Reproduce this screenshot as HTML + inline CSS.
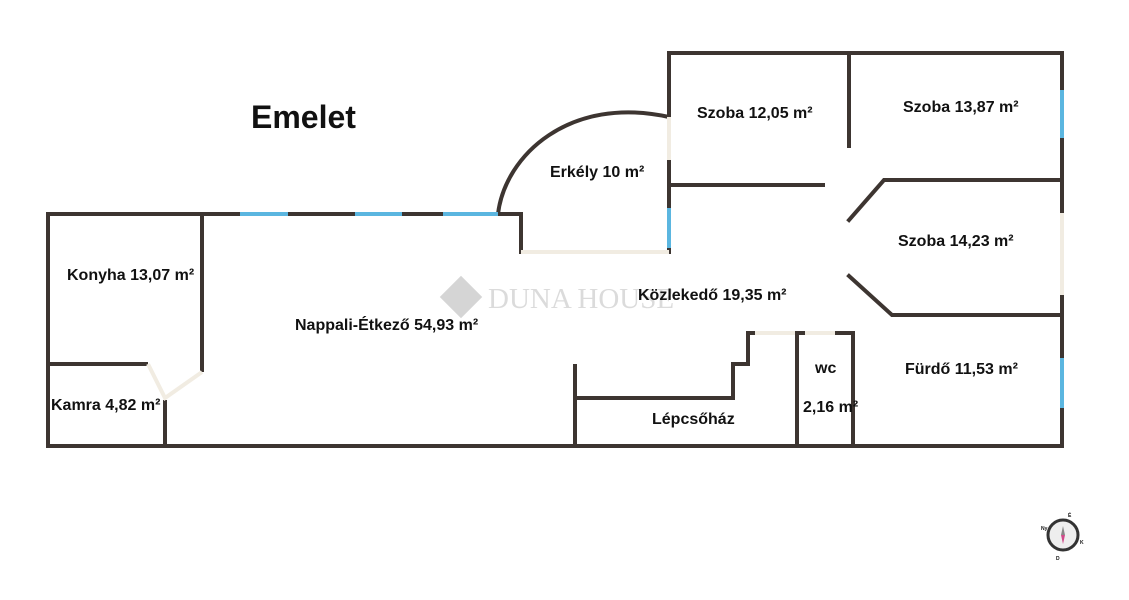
<!DOCTYPE html>
<html><head><meta charset="utf-8"><style>
html,body{margin:0;padding:0;background:#fff;width:1129px;height:600px;overflow:hidden}
svg{display:block}
text{font-family:"Liberation Sans",Arial,sans-serif;font-weight:bold;fill:#111}
</style></head><body>
<svg width="1129" height="600" viewBox="0 0 1129 600">
<g stroke="#3d3531" stroke-width="4" fill="none" stroke-linecap="square">
<path d="M48,214 V446 H1062 V53 H669 V117"/>
<path d="M669,160 V208"/>
<path d="M669,248 V252"/>
<path d="M48,214 H240 M288,214 H355 M402,214 H443"/>
<path d="M498,214 H521 V252"/>
<path d="M498,214 C505,155 570,95 669,117" stroke-linecap="butt"/>
<path d="M202,214 V370"/>
<path d="M48,364 H146"/>
<path d="M165,402 V446"/>
<path d="M669,185 H823"/>
<path d="M849,53 V146"/>
<path d="M1062,180 H884 L849,220"/>
<path d="M849,276 L892,315 H1062"/>
<path d="M575,366 V446"/>
<path d="M575,398 H733 V364 H748 V333 H753"/>
<path d="M797,446 V333 H805"/>
<path d="M835,333 H853 V446"/>
</g>
<g stroke="#5bb6e0" stroke-width="4">
<path d="M240,214 H288 M355,214 H402 M443,214 H498"/>
<path d="M669,208 V248"/>
<path d="M1062,90 V138 M1062,358 V408"/>
</g>
<g stroke="#f1ece2" stroke-width="4" fill="none">
<path d="M521,252 H669"/>
<path d="M669,117 V160"/>
<path d="M1062,213 V295"/>
<path d="M755,333 H795 M805,333 H835"/>
<path d="M148,364 L165,398 L202,372"/>
</g>
<g opacity="0.35">
<rect x="446" y="282" width="30" height="30" transform="rotate(45 461 297)" fill="#888"/>
<text x="488" y="308" style="font-family:'Liberation Serif',serif;font-weight:normal;font-size:29px;fill:#999">DUNA HOUSE</text>
</g>
<text x="251" y="128" style="font-size:32px">Emelet</text>
<g style="font-size:16px">
<text x="697" y="118">Szoba 12,05 m²</text>
<text x="903" y="112">Szoba 13,87 m²</text>
<text x="550" y="177">Erkély 10 m²</text>
<text x="898" y="246">Szoba 14,23 m²</text>
<text x="67" y="280">Konyha 13,07 m²</text>
<text x="295" y="330">Nappali-Étkező 54,93 m²</text>
<text x="638" y="300">Közlekedő 19,35 m²</text>
<text x="51" y="410">Kamra 4,82 m²</text>
<text x="905" y="374">Fürdő 11,53 m²</text>
<text x="652" y="424">Lépcsőház</text>
<text x="815" y="373">wc</text>
<text x="803" y="412">2,16 m²</text>
</g>
<g transform="translate(1063,535)">
<circle r="15" fill="#eee" stroke="#333" stroke-width="3"/>
<path d="M0,-9 L2,0 L-2,0Z" fill="#888"/>
<path d="M0,9 L2,0 L-2,0Z" fill="#d04a8a"/>
<g style="font-size:5px;font-weight:normal"><text x="5" y="-18">É</text><text x="-22" y="-5">Ny</text><text x="17" y="9">K</text><text x="-7" y="25">D</text></g>
</g>
</svg>
</body></html>
